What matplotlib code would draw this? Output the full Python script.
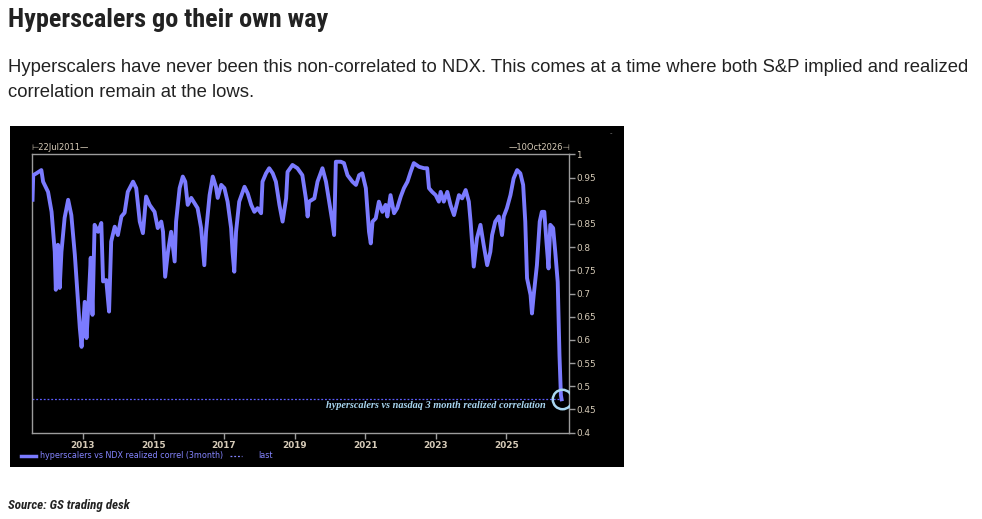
import matplotlib.pyplot as plt
from matplotlib import font_manager as fm
from matplotlib.patches import Rectangle
from matplotlib.lines import Line2D
from matplotlib.ticker import FuncFormatter

# Data (decimal years, realized correlation)
years = [2011.57, 2011.59, 2011.68, 2011.82, 2011.87, 2012.01, 2012.11, 2012.20, 2012.23, 2012.29,
         2012.34, 2012.39, 2012.48, 2012.58, 2012.67, 2012.77, 2012.86, 2012.91, 2012.96, 2013.05,
         2013.10, 2013.17, 2013.22, 2013.27, 2013.33, 2013.43, 2013.52, 2013.57, 2013.66, 2013.74,
         2013.80, 2013.90, 2013.99, 2014.09, 2014.18, 2014.27, 2014.42, 2014.51, 2014.61, 2014.70,
         2014.79, 2014.89, 2015.03, 2015.12, 2015.22, 2015.27, 2015.33, 2015.41, 2015.50, 2015.60,
         2015.64, 2015.74, 2015.83, 2015.90, 2015.97, 2016.07, 2016.16, 2016.25, 2016.35, 2016.44,
         2016.49, 2016.59, 2016.68, 2016.77, 2016.82, 2016.92, 2017.01, 2017.10, 2017.20, 2017.24,
         2017.29, 2017.34, 2017.43, 2017.58, 2017.67, 2017.77, 2017.86, 2017.95, 2018.05, 2018.09,
         2018.19, 2018.28, 2018.38, 2018.47, 2018.57, 2018.66, 2018.76, 2018.80, 2018.94, 2019.08,
         2019.22, 2019.32, 2019.37, 2019.41, 2019.56, 2019.65, 2019.79, 2019.89, 2019.98, 2020.07,
         2020.12, 2020.17, 2020.31, 2020.40, 2020.50, 2020.64, 2020.74, 2020.83, 2020.92, 2021.02,
         2021.11, 2021.16, 2021.21, 2021.30, 2021.39, 2021.49, 2021.58, 2021.63, 2021.72, 2021.82,
         2021.91, 2022.01, 2022.10, 2022.20, 2022.29, 2022.38, 2022.53, 2022.67, 2022.76, 2022.81,
         2022.90, 2023.00, 2023.09, 2023.14, 2023.23, 2023.33, 2023.42, 2023.52, 2023.66, 2023.75,
         2023.85, 2023.94, 2023.99, 2024.03, 2024.08, 2024.17, 2024.27, 2024.36, 2024.46, 2024.55,
         2024.60, 2024.69, 2024.79, 2024.88, 2024.93, 2025.02, 2025.12, 2025.21, 2025.31, 2025.40,
         2025.48, 2025.54, 2025.59, 2025.69, 2025.73, 2025.78, 2025.87, 2025.95, 2026.01, 2026.08,
         2026.14, 2026.20, 2026.25, 2026.33, 2026.39, 2026.46, 2026.51, 2026.55, 2026.57]
correl = [0.902, 0.955, 0.959, 0.966, 0.941, 0.919, 0.876, 0.790, 0.708, 0.805,
          0.712, 0.790, 0.863, 0.902, 0.869, 0.783, 0.682, 0.626, 0.585, 0.682,
          0.604, 0.697, 0.777, 0.654, 0.848, 0.833, 0.852, 0.726, 0.729, 0.661,
          0.812, 0.844, 0.826, 0.866, 0.874, 0.919, 0.941, 0.927, 0.855, 0.830,
          0.909, 0.891, 0.876, 0.841, 0.855, 0.833, 0.736, 0.790, 0.833, 0.769,
          0.855, 0.927, 0.952, 0.941, 0.891, 0.906, 0.895, 0.884, 0.841, 0.761,
          0.833, 0.912, 0.952, 0.930, 0.906, 0.934, 0.927, 0.898, 0.841, 0.790,
          0.747, 0.833, 0.898, 0.930, 0.916, 0.891, 0.876, 0.884, 0.873, 0.941,
          0.959, 0.970, 0.959, 0.941, 0.891, 0.855, 0.905, 0.962, 0.977, 0.970,
          0.955, 0.905, 0.866, 0.898, 0.905, 0.941, 0.970, 0.941, 0.898, 0.855,
          0.826, 0.984, 0.984, 0.981, 0.955, 0.941, 0.934, 0.955, 0.959, 0.927,
          0.833, 0.808, 0.855, 0.862, 0.898, 0.876, 0.891, 0.866, 0.912, 0.873,
          0.884, 0.909, 0.927, 0.941, 0.962, 0.981, 0.973, 0.970, 0.970, 0.927,
          0.919, 0.912, 0.898, 0.919, 0.898, 0.919, 0.891, 0.869, 0.912, 0.905,
          0.923, 0.898, 0.855, 0.812, 0.758, 0.819, 0.848, 0.805, 0.761, 0.790,
          0.826, 0.855, 0.866, 0.826, 0.866, 0.884, 0.912, 0.948, 0.966, 0.959,
          0.934, 0.855, 0.733, 0.697, 0.657, 0.697, 0.761, 0.855, 0.876, 0.876,
          0.812, 0.754, 0.848, 0.841, 0.790, 0.725, 0.567, 0.481, 0.472]
last_value = 0.472
x_ticks = [2013, 2015, 2017, 2019, 2021, 2023, 2025]
y_ticks = [0.4, 0.45, 0.5, 0.55, 0.6, 0.65, 0.7, 0.75, 0.8, 0.85, 0.9, 0.95, 1.0]

W, H = 982, 519
fig = plt.figure(figsize=(W / 100, H / 100), dpi=100)
fig.patch.set_facecolor('white')

# pick a narrow font if one is installed, otherwise Roboto
installed = {f.name for f in fm.fontManager.ttflist}
narrow_choices = ['Liberation Sans Narrow', 'Roboto Condensed', 'Open Sans Condensed',
                  'DejaVu Sans Condensed', 'Noto Sans Condensed']
narrow = next((n for n in narrow_choices if n in installed), 'Roboto')

line_col = '#7b7bff'
tick_col = '#d6cbb8'
spine_col = '#9c9c9c'
sans = ['Liberation Sans', 'DejaVu Sans']

# header text
title = fig.text(8 / W, 1 - 20 / H, "Hyperscalers go their own way", family=[narrow, 'DejaVu Sans'],
                 fontsize=20, fontweight='bold', color='#222222', va='center', ha='left')
fig.text(8 / W, 1 - 67 / H,
         "Hyperscalers have never been this non-correlated to NDX. This comes at a time where both S&P implied and realized",
         family=sans, fontsize=13.35, color='#222222', va='center', ha='left')
fig.text(8 / W, 1 - 92 / H, "correlation remain at the lows.",
         family=sans, fontsize=13.35, color='#222222', va='center', ha='left')

# black chart panel
fig.add_artist(Rectangle((10 / W, 1 - 467 / H), 614 / W, 341 / H,
                         transform=fig.transFigure, facecolor='black', edgecolor='none', zorder=0))

ax = fig.add_axes([32 / W, 1 - 432.7 / H, 537 / W, 278.4 / H])
ax.set_facecolor('black')
ax.plot(years, correl, color=line_col, lw=2.8, solid_joinstyle='round', zorder=3)
ax.hlines(last_value, 2011.555, years[-1], color='#5c5cff', lw=0.9, linestyles=(0, (1.5, 1.5)), zorder=2)
ax.plot(years[-1], last_value, marker='o', ms=14, mfc='none', mec='#a9d6f0', mew=1.8, zorder=4)
ax.text(2026.12, 0.458, "hyperscalers vs nasdaq 3 month realized correlation",
        family=['Liberation Serif', 'DejaVu Serif'], fontstyle='italic', fontweight='bold',
        fontsize=7.4, color='#a9d6f0', ha='right', va='center')

ax.set_xlim(2011.555, 2026.78)
ax.set_ylim(0.4, 1.0)
for s in ax.spines.values():
    s.set_color(spine_col)
    s.set_linewidth(1)
ax.yaxis.tick_right()
ax.set_yticks(y_ticks)
ax.yaxis.set_major_formatter(FuncFormatter(lambda v, p: '%g' % round(v, 2)))
ax.set_xticks(x_ticks)
ax.set_xticklabels([str(y) for y in x_ticks])
ax.tick_params(axis='y', direction='out', length=4, width=1, color=spine_col,
               labelcolor=tick_col, labelsize=6.4, pad=1)
ax.tick_params(axis='x', direction='out', length=4, width=1, color=spine_col,
               labelcolor=tick_col, labelsize=6.4, pad=2)
for lab in ax.get_xticklabels():
    lab.set_fontweight('bold')

# date range labels above the plot
fig.text(31 / W, 1 - 147.5 / H, "⊢22Jul2011—", fontsize=6, color=tick_col, ha='left', va='center')
fig.text(570 / W, 1 - 147.5 / H, "—10Oct2026⊣", fontsize=6, color=tick_col, ha='right', va='center')
fig.text(611 / W, 1 - 133 / H, "-", fontsize=5, color='#888888', ha='center', va='center')

# legend
ly = 1 - 456 / H
fig.add_artist(Line2D([21 / W, 36 / W], [ly, ly], color=line_col, lw=2.5, transform=fig.transFigure))
fig.text(40 / W, ly, "hyperscalers vs NDX realized correl (3month)", fontsize=5.8,
         color='#8484ff', ha='left', va='center')
fig.add_artist(Line2D([230 / W, 242 / W], [ly, ly], color='#8484ff', lw=0.9,
                      linestyle=(0, (1.5, 1.5)), transform=fig.transFigure))
fig.text(258 / W, ly, "last", fontsize=5.8, color='#8484ff', ha='left', va='center')

# source
source = fig.text(8 / W, 1 - 506 / H, "Source: GS trading desk", family=[narrow, 'DejaVu Sans'],
                  fontsize=9.5, fontweight='bold', fontstyle='italic', color='#222222',
                  ha='left', va='center')

# fit the condensed headline and source to their width in the reference
fig.canvas.draw()
renderer = fig.canvas.get_renderer()
for txt, target in [(title, 320), (source, 123)]:
    w = txt.get_window_extent(renderer).width
    txt.set_fontsize(txt.get_fontsize() * target / w)

fig.savefig('out.png', dpi=100, facecolor='white')
